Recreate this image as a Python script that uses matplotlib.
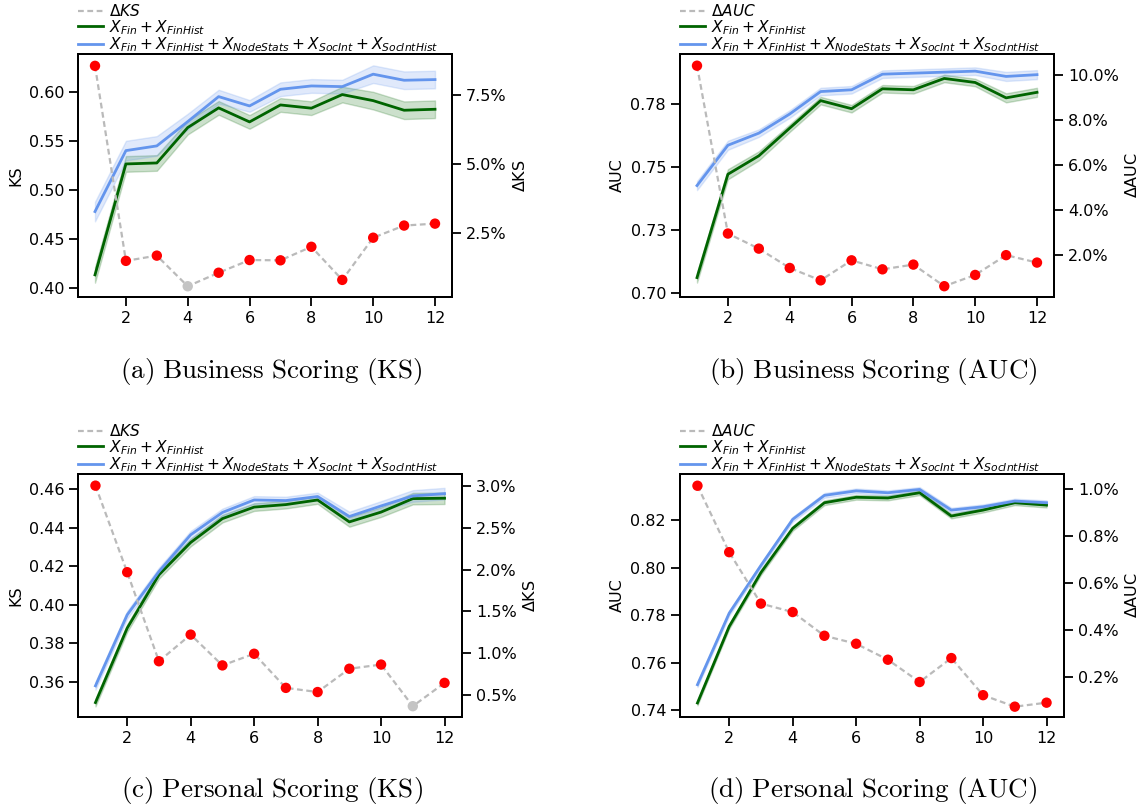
import matplotlib
matplotlib.use('Agg')
import matplotlib.pyplot as plt
from matplotlib.ticker import FuncFormatter

plt.rcParams['mathtext.fontset'] = 'dejavusans'
plt.rcParams['font.size'] = 11

W, H = 1140, 808

rounds = [1, 2, 3, 4, 5, 6, 7, 8, 9, 10, 11, 12]

# (a) business scoring, KS
biz_ks_base = [0.4136, 0.5268, 0.5278, 0.5639, 0.5840, 0.5697, 0.5870, 0.5837, 0.5976, 0.5914, 0.5816, 0.5826]
biz_ks_base_err = [0.008, 0.008, 0.008, 0.007, 0.007, 0.007, 0.007, 0.007, 0.008, 0.009, 0.009, 0.009]
biz_ks_full = [0.4782, 0.5404, 0.5452, 0.5700, 0.5955, 0.5860, 0.6030, 0.6064, 0.6057, 0.6184, 0.6122, 0.6129]
biz_ks_full_err = [0.010, 0.010, 0.010, 0.008, 0.007, 0.006, 0.007, 0.007, 0.007, 0.009, 0.009, 0.009]
biz_ks_delta = [8.57, 1.50, 1.69, 0.58, 1.07, 1.53, 1.52, 2.01, 0.81, 2.34, 2.78, 2.85]
biz_ks_sig = [1, 1, 1, 0, 1, 1, 1, 1, 1, 1, 1, 1]

# (b) business scoring, AUC
biz_auc_base = [0.7061, 0.7471, 0.7544, 0.7654, 0.7763, 0.7731, 0.7810, 0.7806, 0.7851, 0.7835, 0.7774, 0.7796]
biz_auc_base_err = [0.002, 0.002, 0.0018, 0.0015, 0.0015, 0.0015, 0.0015, 0.0015, 0.0015, 0.0015, 0.0018, 0.0018]
biz_auc_full = [0.7426, 0.7586, 0.7634, 0.7710, 0.7799, 0.7806, 0.7868, 0.7872, 0.7876, 0.7880, 0.7859, 0.7866]
biz_auc_full_err = [0.0018, 0.0018, 0.0015, 0.0015, 0.0015, 0.0015, 0.0015, 0.0015, 0.0015, 0.0015, 0.0018, 0.0018]
biz_auc_delta = [10.41, 2.95, 2.28, 1.42, 0.87, 1.76, 1.36, 1.57, 0.61, 1.11, 1.99, 1.66]
biz_auc_sig = [1, 1, 1, 1, 1, 1, 1, 1, 1, 1, 1, 1]

# (c) personal scoring, KS
per_ks_base = [0.3492, 0.3879, 0.4156, 0.4324, 0.4448, 0.4508, 0.4521, 0.4545, 0.4431, 0.4482, 0.4552, 0.4554]
per_ks_base_err = [0.002, 0.002, 0.002, 0.002, 0.002, 0.002, 0.002, 0.002, 0.0025, 0.0025, 0.003, 0.003]
per_ks_full = [0.3579, 0.3948, 0.4173, 0.4364, 0.4480, 0.4545, 0.4542, 0.4563, 0.4459, 0.4514, 0.4566, 0.4578]
per_ks_full_err = [0.002, 0.002, 0.002, 0.002, 0.002, 0.002, 0.002, 0.002, 0.0025, 0.0025, 0.003, 0.003]
per_ks_delta = [3.01, 1.97, 0.90, 1.22, 0.85, 0.99, 0.58, 0.53, 0.81, 0.86, 0.36, 0.64]
per_ks_sig = [1, 1, 1, 1, 1, 1, 1, 1, 1, 1, 0, 1]

# (d) personal scoring, AUC
per_auc_base = [0.7431, 0.7753, 0.7980, 0.8166, 0.8274, 0.8297, 0.8294, 0.8316, 0.8218, 0.8243, 0.8274, 0.8264]
per_auc_base_err = [0.001, 0.001, 0.001, 0.001, 0.001, 0.001, 0.001, 0.001, 0.001, 0.001, 0.001, 0.001]
per_auc_full = [0.7508, 0.7809, 0.8010, 0.8204, 0.8305, 0.8324, 0.8316, 0.8330, 0.8243, 0.8257, 0.8281, 0.8274]
per_auc_full_err = [0.001, 0.001, 0.001, 0.001, 0.001, 0.001, 0.001, 0.001, 0.001, 0.001, 0.001, 0.001]
per_auc_delta = [1.015, 0.732, 0.513, 0.477, 0.376, 0.342, 0.274, 0.179, 0.281, 0.123, 0.074, 0.091]
per_auc_sig = [1, 1, 1, 1, 1, 1, 1, 1, 1, 1, 1, 1]

GREEN = '#006400'
BLUE = '#6495ED'
GREY = '#bababa'


def px_axes(fig, l, t, r, b):
    return fig.add_axes([l / W, 1 - b / H, (r - l) / W, (b - t) / H])


def panel(fig, box, base, base_err, full, full_err, delta, sig, metric,
          yticks, ylabels, ylim, rticks, rlim, rfmt, caption, cap_xy):
    ax = px_axes(fig, *box)
    lo = [m - e for m, e in zip(base, base_err)]
    hi = [m + e for m, e in zip(base, base_err)]
    ax.fill_between(rounds, lo, hi, color=GREEN, alpha=0.2, lw=1)
    l1, = ax.plot(rounds, base, color=GREEN, lw=2)
    lo = [m - e for m, e in zip(full, full_err)]
    hi = [m + e for m, e in zip(full, full_err)]
    ax.fill_between(rounds, lo, hi, color=BLUE, alpha=0.2, lw=1)
    l2, = ax.plot(rounds, full, color=BLUE, lw=2)
    ax.set_xlim(0.45, 12.55)
    ax.set_xticks([2, 4, 6, 8, 10, 12])
    ax.set_yticks(yticks)
    ax.set_yticklabels(ylabels)
    ax.set_ylim(*ylim)
    ax.set_ylabel(metric, fontsize=11.5)

    ax2 = ax.twinx()
    l0, = ax2.plot(rounds, delta, color=GREY, lw=1.6, ls=(0, (2.6, 1.6)))
    cols = ['red' if s else '#c4c4c4' for s in sig]
    ax2.scatter(rounds, delta, c=cols, s=56, zorder=3, linewidths=0)
    ax2.set_yticks(rticks)
    ax2.yaxis.set_major_formatter(FuncFormatter(lambda v, p: rfmt % v + '%'))
    ax2.set_ylim(*rlim)
    ax2.set_ylabel(r'$\Delta$' + metric, fontsize=11.5)

    for a in (ax, ax2):
        a.tick_params(length=6.5, width=1.3, labelsize=11.5)
        for s in a.spines.values():
            s.set_linewidth(1.4)

    ax.legend([l0, l1, l2],
              [r'$\Delta %s$' % metric, r'$X_{Fin} + X_{FinHist}$',
               r'$X_{Fin} + X_{FinHist} + X_{NodeStats} + X_{SocInt} + X_{SocIntHist}$'],
              loc='lower left', bbox_to_anchor=(0, 1.0), frameon=False,
              borderpad=0, borderaxespad=0, handlelength=1.6, handletextpad=0.4,
              labelspacing=-0.08, fontsize=11.1)

    plt.rcParams['mathtext.fontset'] = 'cm'
    fig.text(cap_xy[0] / W, 1 - cap_xy[1] / H, r'$\mathrm{%s}$' % caption.replace(' ', r'\ '),
             ha='center', va='center', fontsize=19.5)
    plt.rcParams['mathtext.fontset'] = 'dejavusans'


fig = plt.figure(figsize=(W / 100, H / 100), dpi=100)

pct1 = '%.1f'
panel(fig, (78, 54, 452, 297), biz_ks_base, biz_ks_base_err, biz_ks_full, biz_ks_full_err,
      biz_ks_delta, biz_ks_sig, 'KS',
      [0.40, 0.45, 0.50, 0.55, 0.60], ['0.40', '0.45', '0.50', '0.55', '0.60'], (0.391, 0.639),
      [2.5, 5.0, 7.5], (0.19, 9.0), pct1, '(a) Business Scoring (KS)', (271, 371))

panel(fig, (680, 54, 1054, 297), biz_auc_base, biz_auc_base_err, biz_auc_full, biz_auc_full_err,
      biz_auc_delta, biz_auc_sig, 'AUC',
      [0.70, 0.725, 0.75, 0.775], ['0.70', '0.73', '0.75', '0.78'], (0.6984, 0.7948),
      [2, 4, 6, 8, 10], (0.13, 10.93), pct1, '(b) Business Scoring (AUC)', (873, 371))

panel(fig, (78, 474, 462, 717), per_ks_base, per_ks_base_err, per_ks_full, per_ks_full_err,
      per_ks_delta, per_ks_sig, 'KS',
      [0.36, 0.38, 0.40, 0.42, 0.44, 0.46], ['0.36', '0.38', '0.40', '0.42', '0.44', '0.46'], (0.3417, 0.468),
      [0.5, 1.0, 1.5, 2.0, 2.5, 3.0], (0.23, 3.15), pct1, '(c) Personal Scoring (KS)', (272, 790))

panel(fig, (680, 474, 1064, 717), per_auc_base, per_auc_base_err, per_auc_full, per_auc_full_err,
      per_auc_delta, per_auc_sig, 'AUC',
      [0.74, 0.76, 0.78, 0.80, 0.82], ['0.74', '0.76', '0.78', '0.80', '0.82'], (0.7372, 0.8395),
      [0.2, 0.4, 0.6, 0.8, 1.0], (0.03, 1.065), pct1, '(d) Personal Scoring (AUC)', (873, 790))

fig.savefig('out.png', dpi=100)
